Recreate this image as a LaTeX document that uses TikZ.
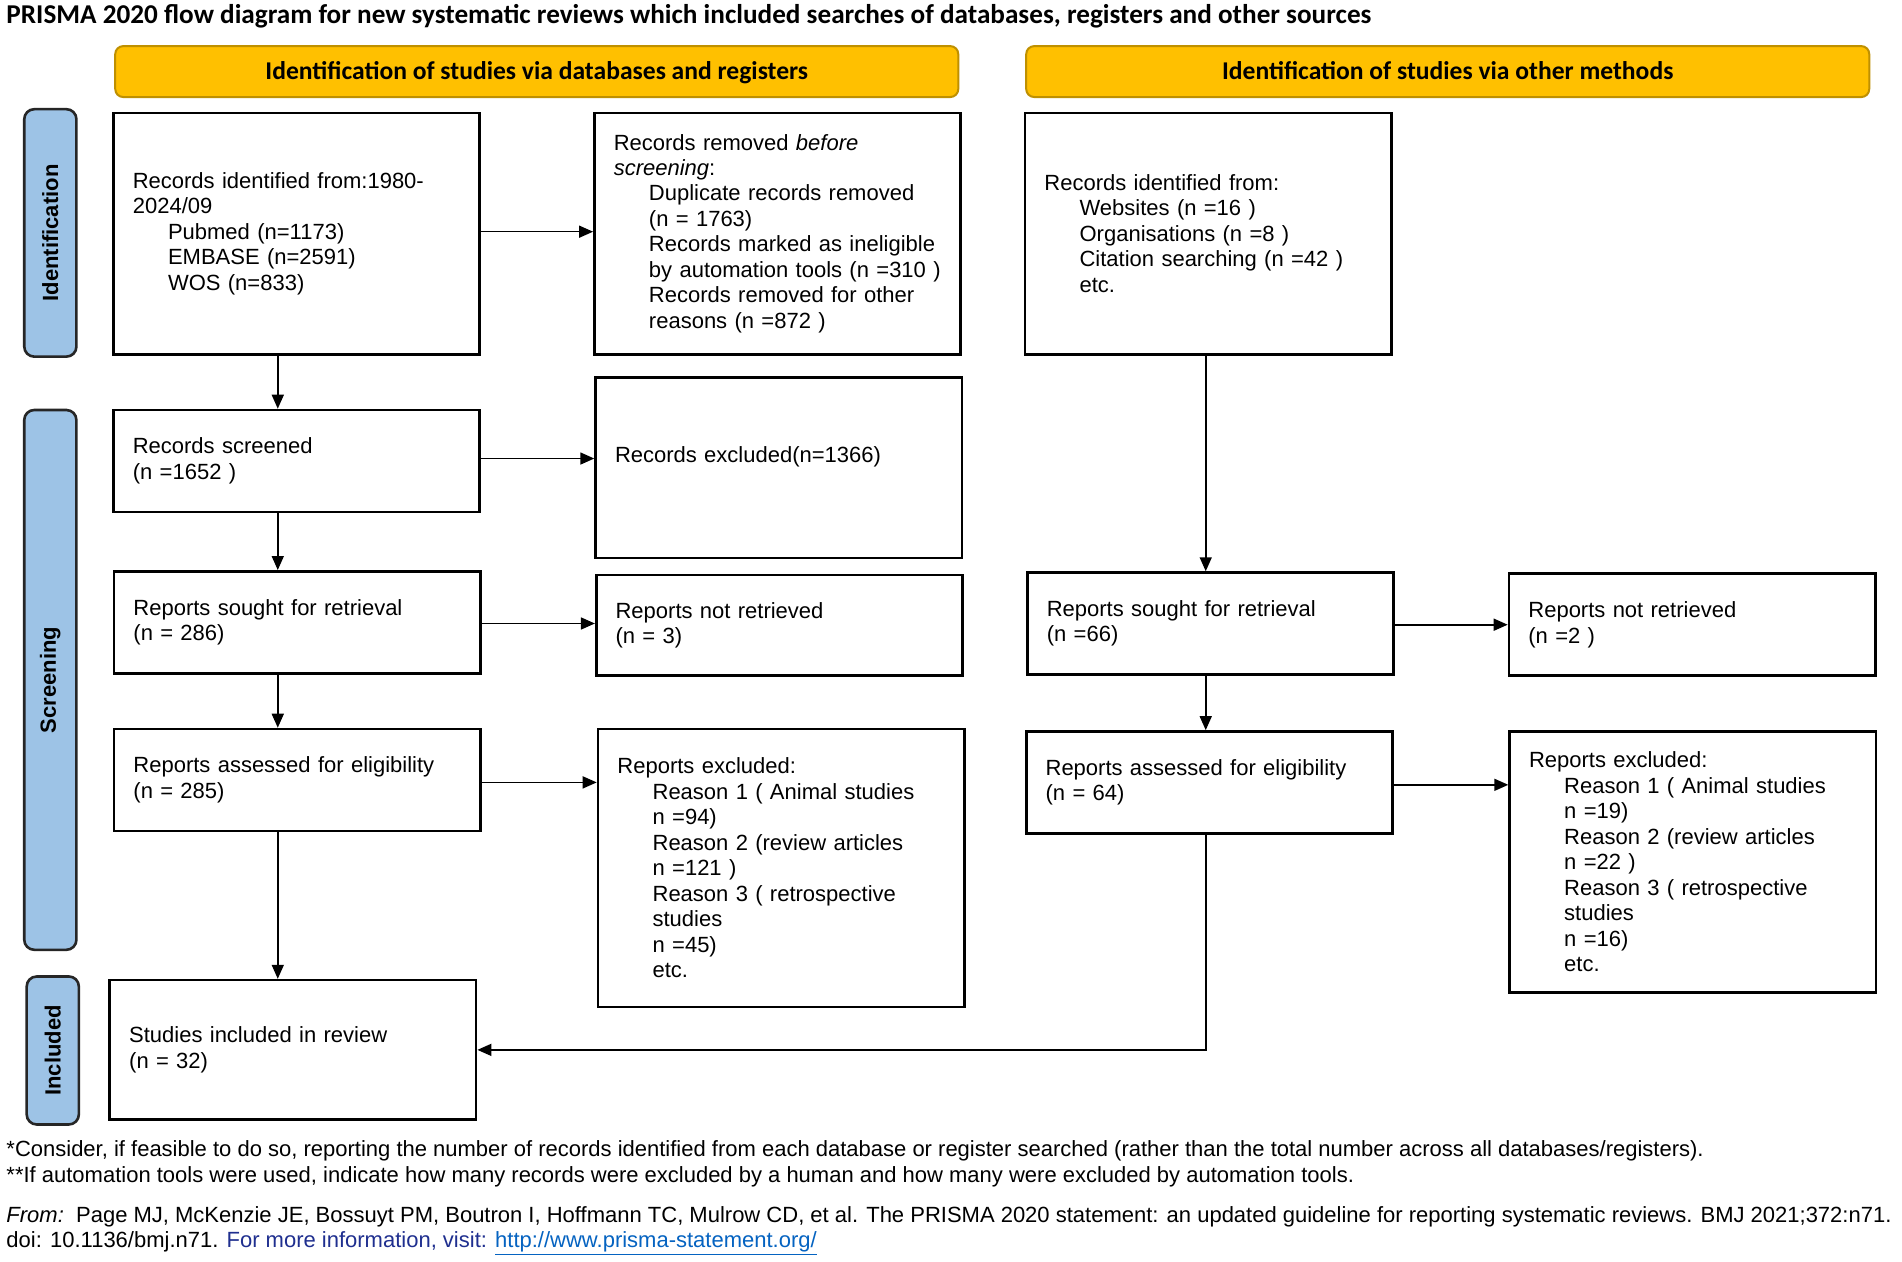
\documentclass[tikz,border=0pt]{standalone}
\usepackage{fontspec}
\setmainfont{Liberation Sans}
\newfontfamily\calibri{Carlito}
\usetikzlibrary{arrows.meta, positioning}

\newcommand{\pxl}{0.6065pt}
\newcommand{\ind}{\hspace*{17.6pt}}
\definecolor{hdrfill}{HTML}{FFC000}
\definecolor{hdrline}{HTML}{BF9000}
\definecolor{sidefill}{HTML}{9DC3E6}
\definecolor{infoblue}{HTML}{1F2F8F}
\definecolor{linkblue}{HTML}{0563C1}

\tikzset{
  box/.style={draw, line width=1.3pt, minimum width=302*\pxl, text width=270*\pxl,
    minimum height=#1*\pxl, align=left, inner xsep=16*\pxl, inner ysep=0pt,
    font=\fontsize{11}{12.74}\selectfont},
  box/.default=84,
  header/.style={draw=hdrline, fill=hdrfill, line width=1pt, rounded corners=4pt,
    minimum width=695*\pxl, minimum height=42*\pxl, text height=10pt, text depth=2pt,
    font=\calibri\bfseries\fontsize{12.8}{15}\selectfont},
  phase/.style={draw=black!85, fill=sidefill, line width=1.3pt, rounded corners=5pt,
    rotate=90, minimum width=#1*\pxl, minimum height=43*\pxl,
    font=\bfseries\fontsize{11}{13}\selectfont},
  arr/.style={-{Triangle[length=7pt,width=6pt]}, line width=0.8pt},
  note/.style={anchor=west, inner sep=0pt, font=\fontsize{11}{12.7}\selectfont}
}

\begin{document}
\begin{tikzpicture}[x=\pxl, y=-\pxl]
  \fill[white] (0,0) rectangle (1568,1039.6);
  \useasboundingbox (0,0) rectangle (1568,1039.6);

  % Title and headers
  \node[anchor=west, inner sep=0pt, font=\calibri\bfseries\fontsize{13.6}{16}\selectfont] (title) at (5,13)
    {PRISMA 2020 flow diagram for new systematic reviews which included searches of databases, registers and other sources};
  \node[header] (hdb) at (442.5,59) {Identification of studies via databases and registers};
  \node[header] (hot) at (1193.5,59) {Identification of studies via other methods};

  % Phases
  \node[phase=204] (pid) at (41.5,192) {Identification};
  \node[phase=445] (pscr) at (41.5,560.5) {Screening};
  \node[phase=122] (pinc) at (43.5,866) {Included};

  % Databases and registers
  \node[box=199] (idb) at (244.5,192.5) {Records identified from:1980-\\2024/09\\
    \ind Pubmed (n=1173)\\\ind EMBASE (n=2591)\\\ind WOS (n=833)};
  \node[box=199] (rem) at (641,192.5) {Records removed \textit{before}\\\textit{screening}:\\
    \ind Duplicate records removed\\\ind (n = 1763)\\\ind Records marked as ineligible\\
    \ind by automation tools (n =310 )\\\ind Records removed for other\\\ind reasons (n =872 )};
  \node[box] (scr) at (244.5,380) {Records screened\\(n =1652 )};
  \node[box=149] (exc) at (642,385.5) {Records excluded(n=1366)\\\mbox{}};
  \node[box] (sought) at (245,513) {Reports sought for retrieval\\(n = 286)};
  \node[box=83] (notret) at (642.5,515.5) {Reports not retrieved\\(n = 3)};
  \node[box] (elig) at (245,643) {Reports assessed for eligibility\\(n = 285)};
  \node[box=229] (repexc) at (644,715.5) {Reports excluded:\\
    \ind Reason 1 ( Animal studies\\\ind n =94)\\\ind Reason 2 (review articles\\\ind n =121 )\\
    \ind Reason 3 ( retrospective\\\ind studies\\\ind n =45)\\\ind etc.};
  \node[box=115] (incl) at (241.5,865.5) {Studies included in review\\(n = 32)};

  % Other methods
  \node[box=199] (oid) at (996,192.5) {Records identified from:\\
    \ind Websites (n =16 )\\\ind Organisations (n =8 )\\\ind Citation searching (n =42 )\\\ind etc.};
  \node[box] (osought) at (998,514) {Reports sought for retrieval\\(n =66)};
  \node[box] (onotret) at (1395,515) {Reports not retrieved\\(n =2 )};
  \node[box] (oelig) at (997,645) {Reports assessed for eligibility\\(n = 64)};
  \node[box=215] (orepexc) at (1395.5,710.5) {Reports excluded:\\
    \ind Reason 1 ( Animal studies\\\ind n =19)\\\ind Reason 2 (review articles\\\ind n =22 )\\
    \ind Reason 3 ( retrospective\\\ind studies\\\ind n =16)\\\ind etc.};

  % Connect the nodes
  \coordinate (lx) at (229,0);
  \coordinate (rx) at (994,0);
  \draw[arr] (idb.east |- 0,191) -- (rem.west |- 0,191);
  \draw[arr] (scr.east |- 0,378) -- (exc.west |- 0,378);
  \draw[arr] (sought.east |- 0,514) -- (notret.west |- 0,514);
  \draw[arr] (elig.east |- 0,645) -- (repexc.west |- 0,645);
  \draw[arr] (idb.south -| lx) -- (scr.north -| lx);
  \draw[arr] (scr.south -| lx) -- (sought.north -| lx);
  \draw[arr] (sought.south -| lx) -- (elig.north -| lx);
  \draw[arr] (elig.south -| lx) -- (incl.north -| lx);
  \draw[arr] (osought.east |- 0,515) -- (onotret.west |- 0,515);
  \draw[arr] (oelig.east |- 0,647) -- (orepexc.west |- 0,647);
  \draw[arr] (oid.south -| rx) -- (osought.north -| rx);
  \draw[arr] (osought.south -| rx) -- (oelig.north -| rx);
  \draw[arr] (oelig.south -| rx) |- (incl.east);

  % Notes
  \node[note] (n1) at (5,949) {*Consider, if feasible to do so, reporting the number of records identified from each database or register searched (rather than the total number across all databases/registers).};
  \node[note] (n2) at (5,970) {**If automation tools were used, indicate how many records were excluded by a human and how many were excluded by automation tools.};
  \node[note] (n3) at (5,1003) {\textit{From:}\ \ Page MJ, McKenzie JE, Bossuyt PM, Boutron I, Hoffmann TC, Mulrow CD, et al. The PRISMA 2020 statement: an updated guideline for reporting systematic reviews. BMJ 2021;372:n71.};
  \node[note] (n4) at (5,1025) {doi: 10.1136/bmj.n71. \textcolor{infoblue}{For more information, visit:} \textcolor{linkblue}{\underline{http://www.prisma-statement.org/}}};
\end{tikzpicture}
\end{document}
